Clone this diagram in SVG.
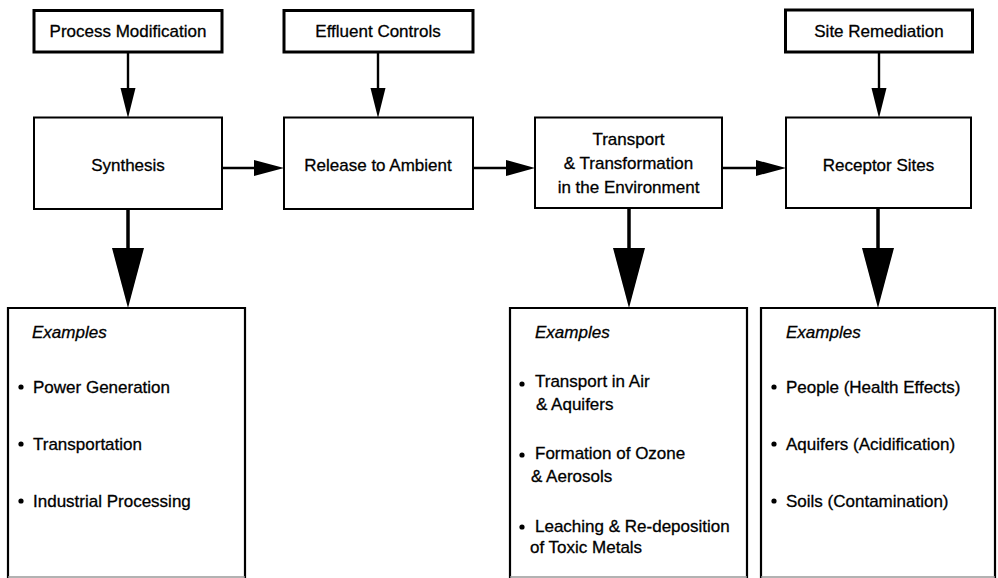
<svg xmlns="http://www.w3.org/2000/svg" width="998" height="578" viewBox="0 0 998 578">
  <style>
    text { font-family: "Liberation Sans", Arial, Helvetica, sans-serif; font-size: 17px; fill: #000; stroke: #000; stroke-width: 0.3; }
    .c { text-anchor: middle; }
    .em { font-style: italic; }
    .ctrl { fill: #fff; stroke: #000; stroke-width: 3; }
    .stage { fill: #fff; stroke: #000; stroke-width: 2; }
    .ex { fill: #fff; stroke: #000; stroke-width: 2.2; }
    .wire { stroke: #000; stroke-width: 2.4; fill: none; }
    .trunk { stroke: #000; stroke-width: 3.5; fill: none; }
    .head { fill: #000; stroke: none; }
    .dot { fill: #000; }
  </style>

  <rect width="998" height="578" fill="#fff"/>

  <!-- connectors -->
  <g id="connectors">
    <!-- control inputs into stages -->
    <line class="wire" x1="128" y1="52" x2="128" y2="90"/>
    <polygon class="head" points="120.5,88 135.5,88 128,118"/>
    <line class="wire" x1="378" y1="52" x2="378" y2="90"/>
    <polygon class="head" points="370.5,88 385.5,88 378,118"/>
    <line class="wire" x1="879" y1="52" x2="879" y2="90"/>
    <polygon class="head" points="871.5,88 886.5,88 879,118"/>

    <!-- stage chain -->
    <line class="wire" x1="222" y1="168" x2="258" y2="168"/>
    <polygon class="head" points="254,160 254,176 284,168"/>
    <line class="wire" x1="473" y1="168" x2="510" y2="168"/>
    <polygon class="head" points="506,160 506,176 535,168"/>
    <line class="wire" x1="722" y1="168" x2="760" y2="168"/>
    <polygon class="head" points="756,160 756,176 786,168"/>

    <!-- stages to examples -->
    <line class="trunk" x1="128" y1="209" x2="128" y2="252"/>
    <polygon class="head" points="112,248 144,248 128,308"/>
    <line class="trunk" x1="629" y1="208" x2="629" y2="252"/>
    <polygon class="head" points="613,248 645,248 629,308"/>
    <line class="trunk" x1="878" y1="208" x2="878" y2="252"/>
    <polygon class="head" points="862,248 894,248 878,308"/>
  </g>

  <!-- control boxes -->
  <g id="process-modification">
    <rect class="ctrl" x="34" y="10.5" width="188" height="41.5"/>
    <text class="c" x="128" y="37">Process Modification</text>
  </g>
  <g id="effluent-controls">
    <rect class="ctrl" x="284" y="10.5" width="189" height="41.5"/>
    <text class="c" x="378" y="37">Effluent Controls</text>
  </g>
  <g id="site-remediation">
    <rect class="ctrl" x="785.5" y="10" width="187" height="42"/>
    <text class="c" x="879" y="37">Site Remediation</text>
  </g>

  <!-- stages -->
  <g id="synthesis">
    <rect class="stage" x="34" y="117.5" width="188" height="91.5"/>
    <text class="c" x="128" y="171">Synthesis</text>
  </g>
  <g id="release-to-ambient">
    <rect class="stage" x="284" y="117.5" width="189" height="91.5"/>
    <text class="c" x="378" y="171">Release to Ambient</text>
  </g>
  <g id="transport-transformation">
    <rect class="stage" x="535" y="117.5" width="187" height="90.5"/>
    <text class="c" x="628.5" y="145">Transport</text>
    <text class="c" x="628.5" y="169">&amp; Transformation</text>
    <text class="c" x="628.5" y="193">in the Environment</text>
  </g>
  <g id="receptor-sites">
    <rect class="stage" x="786" y="117.5" width="185" height="90.5"/>
    <text class="c" x="878.5" y="171">Receptor Sites</text>
  </g>

  <!-- example lists -->
  <g id="synthesis-examples">
    <path class="ex" d="M8,582 V308 H245 V582"/>
    <line x1="8" y1="577" x2="245" y2="577" stroke="#999" stroke-width="1.5"/>
    <text class="em" x="32" y="338">Examples</text>
    <circle class="dot" cx="21" cy="387" r="2.6"/>
    <text x="33" y="393">Power Generation</text>
    <circle class="dot" cx="21" cy="444" r="2.6"/>
    <text x="33" y="450">Transportation</text>
    <circle class="dot" cx="21" cy="501" r="2.6"/>
    <text x="33" y="507">Industrial Processing</text>
  </g>
  <g id="transport-examples">
    <path class="ex" d="M510,582 V308 H747 V582"/>
    <line x1="510" y1="577" x2="747" y2="577" stroke="#999" stroke-width="1.5"/>
    <text class="em" x="535" y="338">Examples</text>
    <circle class="dot" cx="522" cy="384" r="2.6"/>
    <text x="535" y="387">Transport in Air</text>
    <text x="536" y="410">&amp; Aquifers</text>
    <circle class="dot" cx="522" cy="455" r="2.6"/>
    <text x="535" y="459">Formation of Ozone</text>
    <text x="531" y="482">&amp; Aerosols</text>
    <circle class="dot" cx="522" cy="527" r="2.6"/>
    <text x="535" y="532">Leaching &amp; Re-deposition</text>
    <text x="530" y="553">of Toxic Metals</text>
  </g>
  <g id="receptor-examples">
    <path class="ex" d="M761,582 V308 H995 V582"/>
    <line x1="761" y1="577" x2="995" y2="577" stroke="#999" stroke-width="1.5"/>
    <text class="em" x="786" y="338">Examples</text>
    <circle class="dot" cx="774" cy="387" r="2.6"/>
    <text x="786" y="393">People (Health Effects)</text>
    <circle class="dot" cx="774" cy="444" r="2.6"/>
    <text x="786" y="450">Aquifers (Acidification)</text>
    <circle class="dot" cx="774" cy="501" r="2.6"/>
    <text x="786" y="507">Soils (Contamination)</text>
  </g>
</svg>
